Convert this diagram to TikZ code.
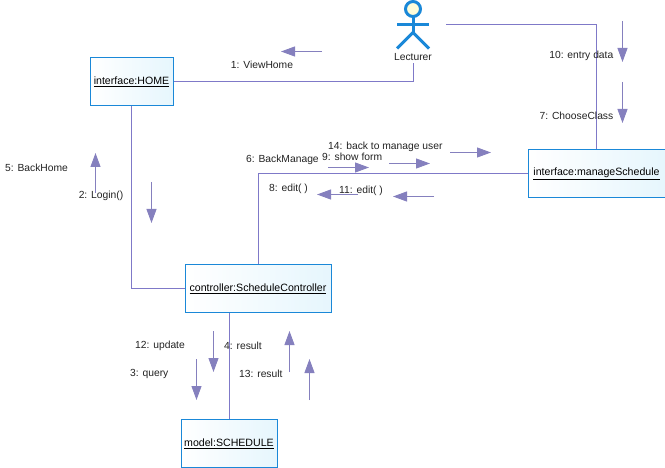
\documentclass[tikz,border=0pt]{standalone}
\usepackage{fontspec}
\setmainfont{Liberation Sans}
\usetikzlibrary{arrows.meta}
\definecolor{linkcol}{HTML}{7F79C8}
\definecolor{msgcol}{HTML}{8580BE}
\definecolor{boxcol}{HTML}{1A88D8}
\definecolor{boxfill}{HTML}{E6F6FD}
\definecolor{txtcol}{HTML}{222222}
\tikzset{
    object/.style={draw=boxcol, line width=1pt,
        path picture={\fill[left color=white, right color=boxfill]
            (path picture bounding box.south west) rectangle (path picture bounding box.north east);},
        inner sep=0pt, minimum height=48pt, text=black, font=\fontsize{10.6}{12}\selectfont},
    link/.style={draw=linkcol, line width=1pt},
    msg/.style={draw=msgcol, line width=1pt, -{Triangle[length=14pt,width=10pt,fill=msgcol]}},
    msglabel/.style={inner sep=0pt, text=txtcol, font=\fontsize{10.3}{12}\selectfont},
    actorline/.style={draw=boxcol, line width=3pt},
}
\begin{document}
\begin{tikzpicture}[x=1pt, y=-1pt]
    \useasboundingbox (0,0) rectangle (665,468);

    % objects
    \node[object, minimum width=83pt] (home) at (131.5,81.5) {\underline{interface:HOME}};
    \node[object, minimum width=137pt] (manage) at (596.5,173.5) {\underline{interface:manageSchedule}};
    \node[object, minimum width=146pt] (ctrl) at (258,288.5) {\underline{controller:ScheduleController}};
    \node[object, minimum width=96pt] (sched) at (229,443.5) {\underline{model:SCHEDULE}};

    % actor
    \draw[actorline, fill=yellow!15] (413,9) circle (7.5);
    \draw[actorline] (397,24.5) -- (429,24.5);
    \draw[actorline] (413,16.5) -- (413,32.5);
    \draw[actorline] (397,48.5) -- (413,32.5) -- (429,48.5);
    \node[msglabel, minimum height=10pt] (lecturer) at (413,57.5) {Lecturer};
    \coordinate (hand) at (446,24.5);

    % links
    \draw[link] (home.east) -| (lecturer.south);
    \draw[link] (hand) -| (manage.north);
    \draw[link] (home.south) |- (ctrl.west);
    \draw[link] (ctrl.north) |- (manage.west);
    \draw[link] (ctrl.south -| sched.north) -- (sched.north);

    % messages
    \foreach \name/\xa/\ya/\xb/\yb in {
        view/322/51.5/281/51.5, back/95.5/193/95.5/153, login/151.5/182/151.5/223,
        bman/328/167.5/369/167.5, form/389/163.5/430/163.5, bmu/450/152.5/491/152.5,
        edita/358/194.5/317/194.5, editb/434/196.5/393/196.5,
        entry/622.5/21/622.5/62, choose/622.5/82/622.5/123,
        upd/213.5/331/213.5/372, query/196.5/359/196.5/400,
        resa/289.5/372/289.5/331, resb/309.5/400/309.5/359}{
      \coordinate (\name s) at (\xa,\ya);
      \coordinate (\name e) at (\xb,\yb);
      \draw[msg] (\name s) -- (\name e);
    }

    % labels
    \node[msglabel] (l1) at (262,65) {1: ViewHome};
    \node[msglabel] (l2) at (101,196) {2: Login()};
    \node[msglabel, anchor=west] (l5) at (5,167.5) {5: BackHome};
    \node[msglabel, anchor=west] (l6) at (246,159.5) {6: BackManage};
    \node[msglabel, anchor=west] (l14) at (328,146.5) {14: back to manage user};
    \node[msglabel, anchor=west] (l9) at (322,156.5) {9: show form};
    \node[msglabel, anchor=west] (l8) at (269,188.5) {8: edit( )};
    \node[msglabel, anchor=west] (l11) at (339,190.5) {11: edit( )};
    \node[msglabel, anchor=east] (l10) at (613.5,55.5) {10: entry data};
    \node[msglabel, anchor=east] (l7) at (613.5,115.5) {7: ChooseClass};
    \node[msglabel, anchor=west] (l12) at (135,345.5) {12: update};
    \node[msglabel, anchor=west] (l3) at (130,373.5) {3: query};
    \node[msglabel, anchor=west] (l4) at (224,345.5) {4: result};
    \node[msglabel, anchor=west] (l13) at (239,373.5) {13: result};
\end{tikzpicture}
\end{document}
